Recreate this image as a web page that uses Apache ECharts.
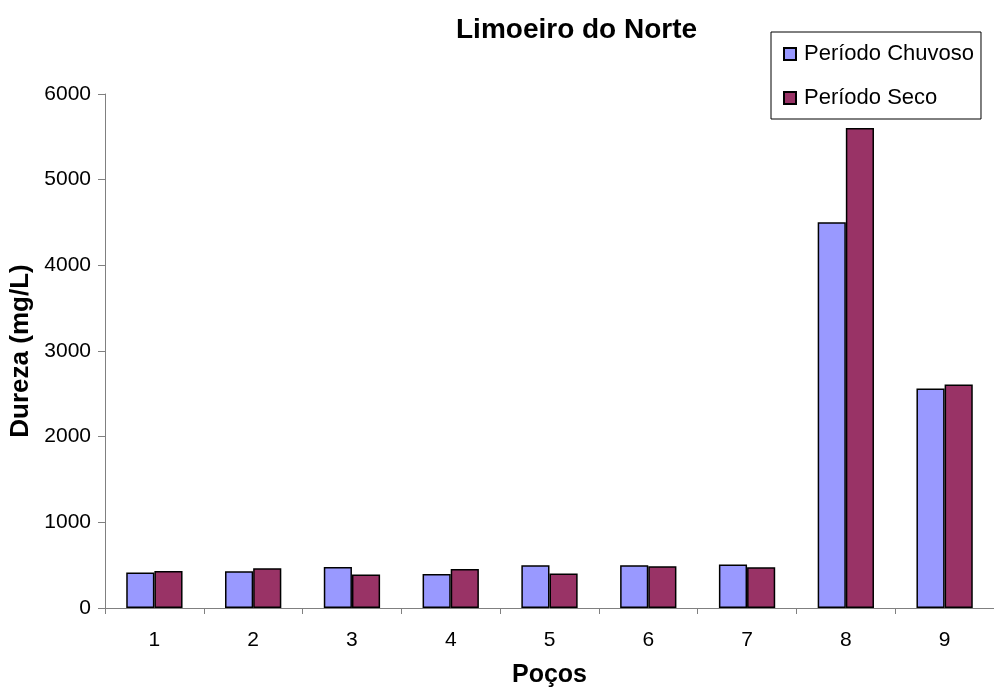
<!DOCTYPE html>
<html><head><meta charset="utf-8">
<script src="https://cdn.jsdelivr.net/npm/echarts@6/dist/echarts.min.js"></script>
<style>html,body{margin:0;padding:0;background:#fff}#c{width:994px;height:689px}</style>
</head><body><div id="c"></div>
<script>
const categories = ['1','2','3','4','5','6','7','8','9'];
const chuvoso = [413, 429, 479, 398, 499, 500, 507, 4503, 2561];
const seco = [433, 464, 390, 456, 402, 487, 476, 5602, 2608];
const seriesNames = ['Período Chuvoso', 'Período Seco'];
const yTicks = [0, 1000, 2000, 3000, 4000, 5000, 6000];

const chart = echarts.init(document.getElementById('c'), null, {renderer: 'canvas'});
const font = 'Arial, "Liberation Sans", sans-serif';
chart.setOption({
  animation: false,
  backgroundColor: '#fff',
  title: {
    text: 'Limoeiro do Norte', left: 451, top: 11,
    textStyle: {fontFamily: font, fontSize: 28, fontWeight: 'bold', color: '#000'}
  },
  legend: {
    orient: 'vertical', left: 771, top: 32,
    padding: [11, 7, 10, 12], itemGap: 22,
    borderColor: '#000', borderWidth: 1,
    itemWidth: 12, itemHeight: 12,
    textStyle: {fontFamily: font, fontSize: 22, color: '#000', padding: [0, 0, 0, 3]},
    data: seriesNames.map(n => ({name: n, icon: 'rect'}))
  },
  grid: {left: 105, right: 0, top: 94, bottom: 81, containLabel: false, outerBoundsMode: 'none'},
  xAxis: {
    type: 'category', data: categories,
    name: 'Poços', nameLocation: 'middle', nameGap: 55,
    nameTextStyle: {fontFamily: font, fontSize: 25, fontWeight: 'bold', color: '#000'},
    axisLine: {lineStyle: {color: '#808080', width: 1}},
    axisTick: {show: true, alignWithLabel: false, length: 6, lineStyle: {color: '#808080'}},
    axisLabel: {fontFamily: font, fontSize: 21, color: '#000', margin: 22}
  },
  yAxis: {
    type: 'value', min: yTicks[0], max: yTicks[yTicks.length - 1], interval: 1000,
    name: 'Dureza (mg/L)', nameLocation: 'middle', nameGap: 67, nameRotate: 90,
    nameTextStyle: {fontFamily: font, fontSize: 26, fontWeight: 'bold', color: '#000'},
    axisLine: {show: true, lineStyle: {color: '#808080', width: 1}},
    axisTick: {show: true, length: 7, inside: false, lineStyle: {color: '#808080'}},
    splitLine: {show: false},
    axisLabel: {fontFamily: font, fontSize: 21, color: '#000', margin: 14,
                formatter: v => String(v)}
  },
  series: [
    {name: seriesNames[0], type: 'bar', data: chuvoso, barGap: '0%', barCategoryGap: '43%',
     itemStyle: {color: '#9999FF', borderColor: '#000', borderWidth: 1.5}},
    {name: seriesNames[1], type: 'bar', data: seco,
     itemStyle: {color: '#993366', borderColor: '#000', borderWidth: 1.5}}
  ]
});
</script></body></html>
